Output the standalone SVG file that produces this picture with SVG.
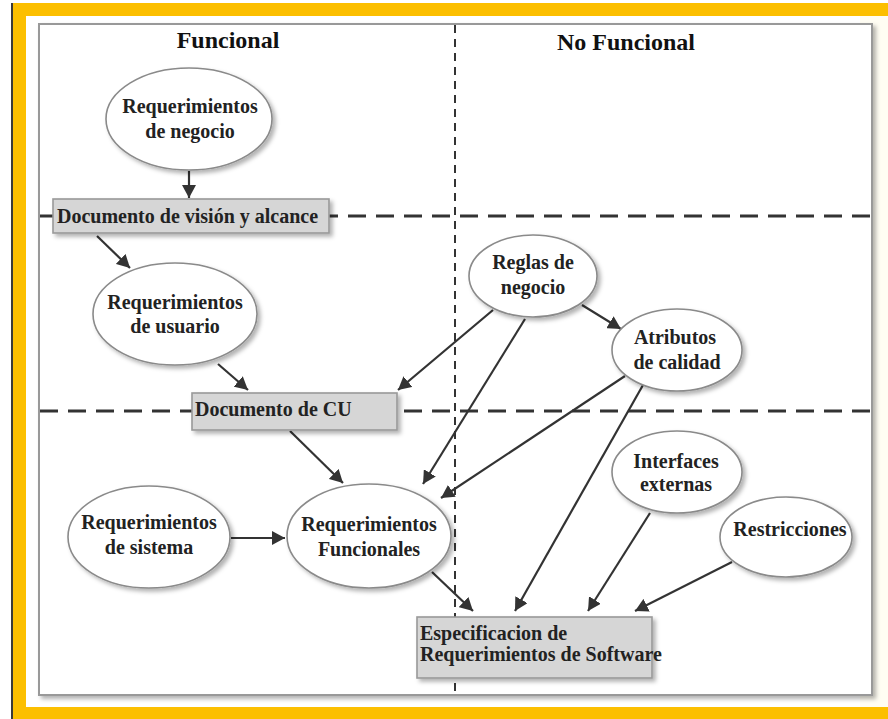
<svg xmlns="http://www.w3.org/2000/svg" width="888" height="719" viewBox="0 0 888 719">
<style>
.t{font-family:"Liberation Serif","Times New Roman",serif;font-weight:bold;font-size:20px;fill:#222}
.title{font-size:24px;fill:#111}
.ell{fill:#fff;stroke:#8a8a8a;stroke-width:1.6}
.box{fill:#d6d6d6;stroke:#999;stroke-width:1.6}
.con line{stroke:#333;stroke-width:2.2}
.hd{stroke:#333;stroke-width:3.2;stroke-dasharray:18 10;fill:none}
.vd{stroke:#333;stroke-width:2;stroke-dasharray:8 6;fill:none}
</style>
<defs>
<filter id="sh" x="-20%" y="-20%" width="150%" height="150%">
<feDropShadow dx="3" dy="3" stdDeviation="2" flood-color="#000" flood-opacity="0.3"/>
</filter>
<marker id="ar" markerUnits="userSpaceOnUse" markerWidth="14" markerHeight="14" refX="13" refY="7" orient="auto">
<path d="M0,0 L13,7 L0,14 z" fill="#333"/>
</marker>
</defs>
<!-- frame -->
<rect x="0" y="0" width="888" height="719" fill="#fff"/>
<rect x="860" y="16" width="28" height="692" fill="#fffdf3"/>
<rect x="11" y="3" width="877" height="13" fill="#fcbf00"/>
<rect x="11" y="707" width="877" height="12" fill="#fcbf00"/>
<rect x="11" y="3" width="15" height="716" fill="#fcbf00"/>
<rect x="11" y="3" width="2" height="716" fill="#3a3a3a"/>
<rect x="39" y="24" width="833" height="671" fill="#fff" stroke="#999" stroke-width="2" filter="url(#sh)"/>
<!-- dashed separators -->
<g id="separators">
<line class="vd" x1="455" y1="25" x2="455" y2="694"/>
<line class="hd" x1="40" y1="216" x2="871" y2="216"/>
<line class="hd" x1="40" y1="411" x2="871" y2="411"/>
</g>
<text class="t title" x="228" y="48" text-anchor="middle">Funcional</text>
<text class="t title" x="626" y="50" text-anchor="middle">No Funcional</text>
<!-- connectors -->
<g id="connectors" class="con" marker-end="url(#ar)">
<line x1="189" y1="171" x2="189" y2="198" marker-end="url(#ar)"/>
<line x1="97" y1="236" x2="130" y2="268" marker-end="url(#ar)"/>
<line x1="218" y1="364" x2="248" y2="390" marker-end="url(#ar)"/>
<line x1="493" y1="310" x2="398" y2="390" marker-end="url(#ar)"/>
<line x1="290" y1="431" x2="343" y2="483" marker-end="url(#ar)"/>
<line x1="231" y1="538" x2="285" y2="538" marker-end="url(#ar)"/>
<line x1="582" y1="305" x2="621" y2="329" marker-end="url(#ar)"/>
<line x1="525" y1="319" x2="423" y2="484" marker-end="url(#ar)"/>
<line x1="625" y1="376" x2="441" y2="498" marker-end="url(#ar)"/>
<line x1="643" y1="385" x2="515" y2="611" marker-end="url(#ar)"/>
<line x1="432" y1="572" x2="473" y2="611" marker-end="url(#ar)"/>
<line x1="650" y1="513" x2="588" y2="611" marker-end="url(#ar)"/>
<line x1="732" y1="562" x2="635" y2="611" marker-end="url(#ar)"/>
</g>
<!-- nodes -->
<g id="req-negocio">
<ellipse class="ell" cx="189" cy="119" rx="83" ry="51" filter="url(#sh)"/>
<text class="t" x="190" y="113" text-anchor="middle">Requerimientos</text>
<text class="t" x="190" y="138" text-anchor="middle">de negocio</text>
</g>
<g id="doc-vision">
<rect class="box" x="53" y="199" width="276" height="34" filter="url(#sh)"/>
<text class="t" x="57" y="223">Documento de visión y alcance</text>
</g>
<g id="req-usuario">
<ellipse class="ell" cx="175" cy="314" rx="82" ry="51" filter="url(#sh)"/>
<text class="t" x="175" y="309" text-anchor="middle">Requerimientos</text>
<text class="t" x="175" y="333" text-anchor="middle">de usuario</text>
</g>
<g id="doc-cu">
<rect class="box" x="192" y="393" width="205" height="37" filter="url(#sh)"/>
<text class="t" x="195" y="416">Documento de CU</text>
</g>
<g id="req-sistema">
<ellipse class="ell" cx="149" cy="537" rx="81" ry="51" filter="url(#sh)"/>
<text class="t" x="149" y="529" text-anchor="middle">Requerimientos</text>
<text class="t" x="149" y="554" text-anchor="middle">de sistema</text>
</g>
<g id="req-funcionales">
<ellipse class="ell" cx="369" cy="536" rx="82" ry="52" filter="url(#sh)"/>
<text class="t" x="369" y="531" text-anchor="middle">Requerimientos</text>
<text class="t" x="369" y="556" text-anchor="middle">Funcionales</text>
</g>
<g id="reglas-negocio">
<ellipse class="ell" cx="533" cy="276" rx="64" ry="41" filter="url(#sh)"/>
<text class="t" x="533" y="269" text-anchor="middle">Reglas de</text>
<text class="t" x="533" y="294" text-anchor="middle">negocio</text>
</g>
<g id="atributos-calidad">
<ellipse class="ell" cx="677" cy="350" rx="65" ry="41" filter="url(#sh)"/>
<text class="t" x="675" y="344" text-anchor="middle">Atributos</text>
<text class="t" x="677" y="369" text-anchor="middle">de calidad</text>
</g>
<g id="interfaces-externas">
<ellipse class="ell" cx="677" cy="472" rx="65" ry="41" filter="url(#sh)"/>
<text class="t" x="676" y="468" text-anchor="middle">Interfaces</text>
<text class="t" x="676" y="491" text-anchor="middle">externas</text>
</g>
<g id="restricciones">
<ellipse class="ell" cx="786" cy="537" rx="66" ry="40" filter="url(#sh)"/>
<text class="t" x="790" y="536" text-anchor="middle">Restricciones</text>
</g>
<g id="ers">
<rect class="box" x="417" y="617" width="235" height="61" filter="url(#sh)"/>
<text class="t" x="420" y="640">Especificacion de</text>
<text class="t" x="420" y="661">Requerimientos de Software</text>
</g>
</svg>
